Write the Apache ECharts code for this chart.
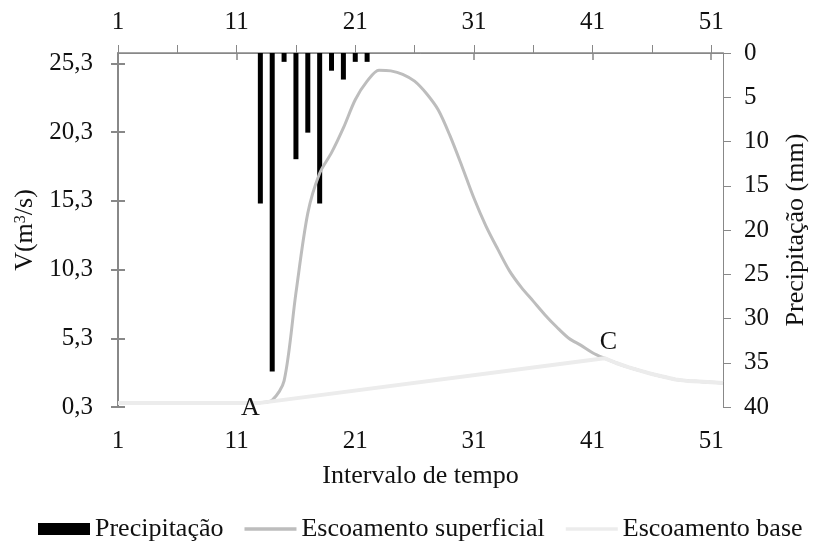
<!DOCTYPE html>
<html>
<head>
<meta charset="utf-8">
<script src="https://cdn.jsdelivr.net/npm/echarts@6/dist/echarts.min.js"></script>
<style>html,body{margin:0;padding:0;background:#fff;}#c{width:817px;height:550px;}</style>
</head>
<body>
<div id="c"></div>
<script>
// ---- data ----
const timeSteps = [1,2,3,4,5,6,7,8,9,10,11,12,13,14,15,16,17,18,19,20,21,22,23,24,25,26,27,28,29,30,31,32,33,34,35,36,37,38,39,40,41,42,43,44,45,46,47,48,49,50,51,52];
const surfaceFlow = [0.6,0.6,0.6,0.6,0.6,0.6,0.6,0.6,0.6,0.6,0.6,0.6,0.62,0.8,2.2,8.6,14.4,17.3,18.8,20.6,22.65,24.0,24.8,24.75,24.5,24.0,23.1,21.9,20.0,17.8,15.5,13.5,11.8,10.2,9.0,8.0,7.0,6.1,5.3,4.8,4.25,3.85,3.5,3.2,2.95,2.7,2.5,2.3,2.2,2.15,2.1,2.05];
const baseFlowX = [1,13,42,43,44,45,46,47,48,49,50,51,52];
const baseFlowY = [0.6,0.6,3.85,3.5,3.2,2.95,2.7,2.5,2.3,2.2,2.15,2.1,2.05];
const rainSteps = [13,14,15,16,17,18,19,20,21,22];
const rainMm = [17,36,1,12,9,17,2,3,1,1];
const flowTicks = [0.3,5.3,10.3,15.3,20.3,25.3];
const rainTicks = [0,5,10,15,20,25,30,35,40];
const bottomTicks = [1,11,21,31,41,51];
const topTicks = [1,6,11,16,21,26,31,36,41,46,51];
const topLabels = [1,11,21,31,41,51];
const markA = [13,0.6];
const markC = [42,3.85];

const FONT = '"Liberation Serif","Times New Roman",serif';
const TXT = '#111';
const AX = '#888';
const fs = 25;
const fsName = 26;

const chart = echarts.init(document.getElementById('c'), null, {renderer:'canvas'});
const comma = v => (Math.round(v*10)/10).toFixed(1).replace('.', ',');
const lineIcon = 'path://M0,0 H56 V4 H0 Z';

chart.setOption({
  animation:false,
  backgroundColor:'#fff',
  textStyle:{fontFamily:FONT,color:TXT},
  grid:{left:118,right:89,top:53,bottom:143,containLabel:false},
  legend:{
    left:33, top:511,
    itemWidth:52, itemHeight:12, itemGap:21,
    textStyle:{fontFamily:FONT,fontSize:fsName,color:TXT},
    data:[
      {name:'Precipitação',icon:'rect'},
      {name:'Escoamento superficial',icon:lineIcon},
      {name:'Escoamento base',icon:lineIcon}
    ]
  },
  xAxis:[
    {type:'value',position:'bottom',min:1,max:52,
     name:'Intervalo de tempo',nameLocation:'middle',nameGap:56,
     nameTextStyle:{fontFamily:FONT,fontSize:fsName,color:TXT},
     axisLine:{lineStyle:{color:AX,width:1.5}},
     axisTick:{show:true,length:7,lineStyle:{color:AX,width:1.5},customValues:bottomTicks},
     axisLabel:{fontFamily:FONT,fontSize:fs,color:TXT,margin:22,customValues:bottomTicks},
     splitLine:{show:false}},
    {type:'value',position:'top',min:1,max:52,
     axisLine:{lineStyle:{color:AX,width:1}},
     axisTick:{show:true,length:8,lineStyle:{color:AX,width:1},customValues:topTicks},
     axisLabel:{fontFamily:FONT,fontSize:fs,color:TXT,margin:18,customValues:topLabels},
     splitLine:{show:false}}
  ],
  yAxis:[
    {type:'value',position:'left',min:0.3,max:26.05,
     name:'V(m{sup|3}/s)',nameLocation:'middle',nameGap:79,
     nameTextStyle:{fontFamily:FONT,fontSize:fsName,color:TXT,
       rich:{sup:{fontFamily:FONT,fontSize:16,color:TXT,verticalAlign:'top',padding:[0,0,9,0]}}},
     axisLine:{show:true,lineStyle:{color:AX,width:2}},
     axisTick:{show:true,length:7,lineStyle:{color:AX,width:2},customValues:flowTicks},
     axisLabel:{fontFamily:FONT,fontSize:fs,color:TXT,margin:25,customValues:flowTicks,formatter:comma},
     splitLine:{show:false}},
    {type:'value',position:'right',min:0,max:40,inverse:true,
     name:'Precipitação (mm)',nameLocation:'middle',nameGap:60,
     nameTextStyle:{fontFamily:FONT,fontSize:fsName,color:TXT},
     axisLine:{show:true,lineStyle:{color:AX,width:1}},
     axisTick:{show:true,length:8,lineStyle:{color:AX,width:1},customValues:rainTicks},
     axisLabel:{fontFamily:FONT,fontSize:fs,color:TXT,margin:21,customValues:rainTicks},
     splitLine:{show:false}},
    {type:'value',position:'left',min:0.3,max:26.05,
     axisLine:{show:false},
     axisTick:{show:true,inside:true,length:7,lineStyle:{color:AX,width:2},customValues:flowTicks},
     axisLabel:{show:false},
     splitLine:{show:false}}
  ],
  series:[
    {name:'Precipitação',type:'bar',xAxisIndex:1,yAxisIndex:1,barWidth:5,
     itemStyle:{color:'#000'},
     data:rainSteps.map((s,i)=>[s,rainMm[i]])},
    {name:'Escoamento superficial',type:'line',xAxisIndex:0,yAxisIndex:0,
     smooth:0.3,showSymbol:false,symbol:'none',
     lineStyle:{color:'#bdbdbd',width:3},itemStyle:{color:'#bdbdbd'},
     data:timeSteps.map((s,i)=>[s,surfaceFlow[i]])},
    {name:'Escoamento base',type:'line',xAxisIndex:0,yAxisIndex:0,
     smooth:false,showSymbol:false,symbol:'none',
     lineStyle:{color:'#ececec',width:4},itemStyle:{color:'#ececec'},
     data:baseFlowX.map((s,i)=>[s,baseFlowY[i]]),
     markPoint:{
       symbol:'circle',symbolSize:2,itemStyle:{color:'rgba(0,0,0,0)'},
       label:{show:true,fontFamily:FONT,fontSize:fsName,color:TXT},
       data:[
         {coord:markA,label:{show:true,formatter:'A',position:'inside',offset:[-10,5]}},
         {coord:markC,label:{show:true,formatter:'C',position:'inside',offset:[4,-16]}}
       ]
     }}
  ]
});
</script>
</body>
</html>
